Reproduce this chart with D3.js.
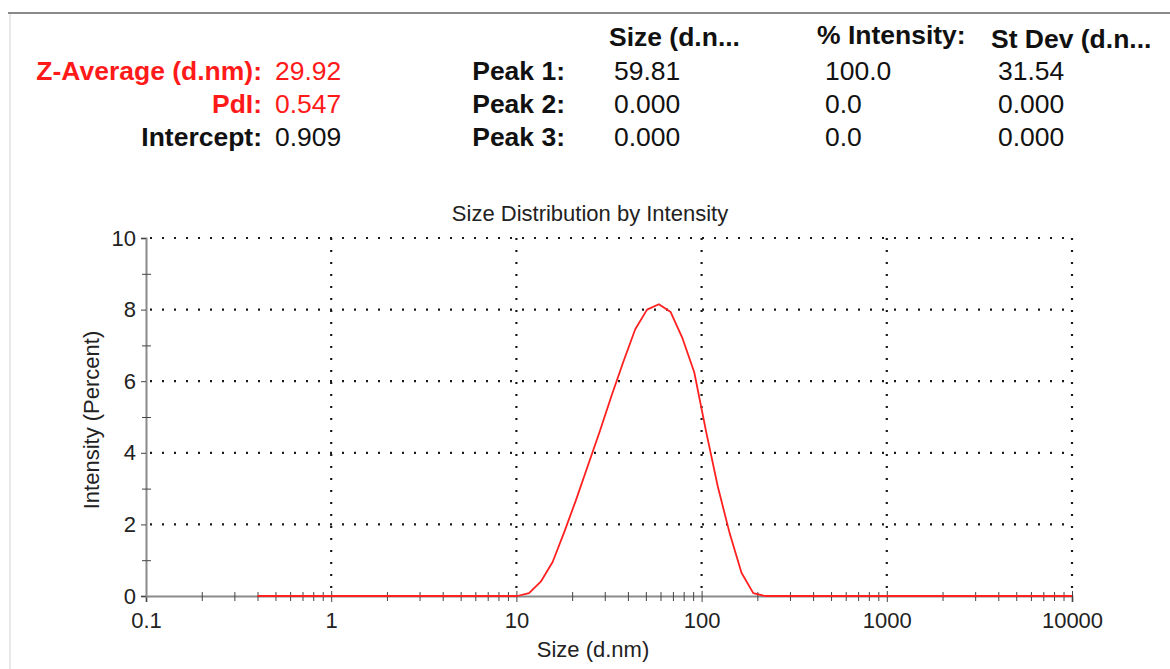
<!DOCTYPE html>
<html>
<head>
<meta charset="utf-8">
<script src="https://cdn.jsdelivr.net/npm/d3@7"></script>
<style>
  html, body { margin: 0; padding: 0; background: #fff; }
  svg { display: block; font-family: "Liberation Sans", Arial, sans-serif; }
</style>
</head>
<body>
<div id="chart"></div>
<script>
// summary table
const statLabels = ["Z-Average (d.nm):", "PdI:", "Intercept:"];
const statValues = ["29.92", "0.547", "0.909"];
const peakLabels = ["Peak 1:", "Peak 2:", "Peak 3:"];
const peakColumns = ["Size (d.n...", "% Intensity:", "St Dev (d.n..."];
const peakSize = ["59.81", "0.000", "0.000"];
const peakIntensity = ["100.0", "0.0", "0.0"];
const peakStDev = ["31.54", "0.000", "0.000"];

// size bins (d.nm) and intensity (%)
const sizes = [0.4, 0.4632, 0.5365, 0.6213, 0.7195, 0.8332, 0.9649, 1.117, 1.294, 1.499,
  1.736, 2.01, 2.328, 2.696, 3.122, 3.615, 4.187, 4.849, 5.615, 6.503,
  7.531, 8.721, 10.1, 11.7, 13.54, 15.69, 18.17, 21.04, 24.36, 28.21,
  32.67, 37.84, 43.82, 50.75, 58.77, 68.06, 78.82, 91.28, 105.7, 122.4,
  141.8, 164.2, 190.1, 220.2, 255.0, 295.3, 342.0, 396.1, 458.7, 531.2,
  615.1, 712.4, 825.0, 955.4, 1106, 1281, 1484, 1718, 1990, 2305,
  2669, 3091, 3580, 4145, 4801, 5560, 6439, 7456, 8635, 10000];
const intensity = [0, 0, 0, 0, 0, 0, 0, 0, 0, 0,
  0, 0, 0, 0, 0, 0, 0, 0, 0, 0,
  0, 0, 0, 0.08, 0.4, 0.95, 1.8, 2.7, 3.65, 4.6,
  5.6, 6.55, 7.45, 8.0, 8.15, 7.93, 7.2, 6.25, 4.6, 3.05,
  1.75, 0.65, 0.08, 0, 0, 0, 0, 0, 0, 0,
  0, 0, 0, 0, 0, 0, 0, 0, 0, 0,
  0, 0, 0, 0, 0, 0, 0, 0, 0, 0];

const xMajor = [0.1, 1, 10, 100, 1000, 10000];
const yMajor = [0, 2, 4, 6, 8, 10];
const yMinor = [1, 3, 5, 7, 9];

const width = 1170, height = 669;
const plot = {left: 146, right: 1072, top: 238, bottom: 596};
const labelFont = "22px";

const svg = d3.select("#chart").append("svg")
    .attr("width", width)
    .attr("height", height)
    .attr("viewBox", [0, 0, width, height]);

// frame lines at top and left
svg.append("line")
    .attr("x1", 8).attr("x2", width).attr("y1", 13).attr("y2", 13)
    .attr("stroke", "#8a8a8a").attr("stroke-width", 2);
svg.append("line")
    .attr("x1", 10).attr("x2", 10).attr("y1", 14).attr("y2", height)
    .attr("stroke", "#e2e2e2").attr("stroke-width", 1.5);

// header table (text in the source is a bit wider than the font)
const head = svg.append("g").style("font-size", "25px");
const rowY = i => 80 + i * 33;
const place = (px, py) => `translate(${px},${py}) scale(1.06,1)`;

head.selectAll(".stat-label")
  .data(statLabels)
  .join("text")
    .attr("transform", (d, i) => place(262, rowY(i)))
    .attr("text-anchor", "end")
    .attr("font-weight", "bold")
    .attr("fill", (d, i) => i < 2 ? "#ff1a1a" : "#111")
    .text(d => d);

head.selectAll(".stat-value")
  .data(statValues)
  .join("text")
    .attr("transform", (d, i) => place(275, rowY(i)))
    .attr("fill", (d, i) => i < 2 ? "#ff1a1a" : "#111")
    .text(d => d);

head.selectAll(".peak-label")
  .data(peakLabels)
  .join("text")
    .attr("transform", (d, i) => place(565, rowY(i)))
    .attr("text-anchor", "end")
    .attr("font-weight", "bold")
    .attr("fill", "#111")
    .text(d => d);

const colX = [609, 817, 991];
const colY = [46, 44, 48];
const valX = [614, 825, 998];
head.selectAll(".col-head")
  .data(peakColumns)
  .join("text")
    .attr("transform", (d, i) => place(colX[i], colY[i]))
    .attr("font-weight", "bold")
    .attr("fill", "#111")
    .text(d => d);

[peakSize, peakIntensity, peakStDev].forEach((col, c) => {
  head.append("g").selectAll("text")
    .data(col)
    .join("text")
      .attr("transform", (d, i) => place(valX[c], rowY(i)))
      .attr("fill", "#111")
      .text(d => d);
});

// scales
const x = d3.scaleLog([0.1, 10000], [plot.left, plot.right]);
const y = d3.scaleLinear([0, 10], [plot.bottom, plot.top]);

// dotted grid
const grid = svg.append("g")
    .attr("stroke", "#1a1a1a")
    .attr("stroke-width", 2.2)
    .attr("stroke-dasharray", "2,10");
grid.selectAll(".hg")
  .data(yMajor.slice(1))
  .join("line")
    .attr("x1", plot.left + 4).attr("x2", plot.right)
    .attr("y1", d => y(d)).attr("y2", d => y(d));
grid.selectAll(".vg")
  .data(xMajor.slice(1))
  .join("line")
    .attr("x1", d => x(d)).attr("x2", d => x(d))
    .attr("y1", plot.top).attr("y2", plot.bottom);

// x axis: major ticks with labels, minor ticks crossing the line
const xMinor = [];
xMajor.slice(0, -1).forEach(dec => {
  for (let m = 2; m <= 9; m++) xMinor.push(dec * m);
});

const xAxisG = svg.append("g")
    .attr("transform", `translate(0,${plot.bottom})`);
xAxisG.call(d3.axisBottom(x)
    .tickValues(xMajor)
    .tickFormat(d => String(d))
    .tickSize(6)
    .tickPadding(10));
xAxisG.select(".domain").attr("stroke", "#8a8a8a").attr("stroke-width", 2);
xAxisG.selectAll(".tick line").attr("y1", -5).attr("y2", 6).attr("stroke", "#444");
xAxisG.selectAll(".tick text")
    .attr("fill", "#222")
    .style("font-size", labelFont)
    .style("font-family", "'Liberation Sans', Arial, sans-serif");

const xMinorG = svg.append("g")
    .attr("transform", `translate(0,${plot.bottom})`);
xMinorG.call(d3.axisBottom(x).tickValues(xMinor).tickFormat("").tickSize(5));
xMinorG.select(".domain").remove();
xMinorG.selectAll(".tick line").attr("y1", -4).attr("y2", 5).attr("stroke", "#444");

// y axis
const yAxisG = svg.append("g")
    .attr("transform", `translate(${plot.left},0)`);
yAxisG.call(d3.axisLeft(y)
    .tickValues(yMajor)
    .tickFormat(d3.format("d"))
    .tickSize(5)
    .tickPadding(5));
yAxisG.select(".domain").attr("stroke", "#8a8a8a").attr("stroke-width", 2);
yAxisG.selectAll(".tick line").attr("stroke", "#444");
yAxisG.selectAll(".tick text")
    .attr("fill", "#222")
    .style("font-size", labelFont)
    .style("font-family", "'Liberation Sans', Arial, sans-serif");

const yMinorG = svg.append("g")
    .attr("transform", `translate(${plot.left},0)`);
yMinorG.call(d3.axisLeft(y).tickValues(yMinor).tickFormat("").tickSize(4));
yMinorG.select(".domain").remove();
yMinorG.selectAll(".tick line").attr("x1", -4).attr("x2", 5).attr("stroke", "#444");

// distribution curve
const line = d3.line()
    .x((d, i) => x(sizes[i]))
    .y(d => y(d));
svg.append("path")
    .datum(intensity)
    .attr("fill", "none")
    .attr("stroke", "#ff2020")
    .attr("stroke-width", 1.8)
    .attr("stroke-linejoin", "round")
    .attr("d", line);

// titles
svg.append("text")
    .attr("x", 590).attr("y", 221)
    .attr("text-anchor", "middle")
    .attr("fill", "#222")
    .style("font-size", labelFont)
    .text("Size Distribution by Intensity");
svg.append("text")
    .attr("x", 593).attr("y", 657)
    .attr("text-anchor", "middle")
    .attr("fill", "#222")
    .style("font-size", labelFont)
    .text("Size (d.nm)");
svg.append("text")
    .attr("transform", "translate(99,420) rotate(-90)")
    .attr("text-anchor", "middle")
    .attr("fill", "#222")
    .style("font-size", labelFont)
    .text("Intensity (Percent)");
</script>
</body>
</html>
